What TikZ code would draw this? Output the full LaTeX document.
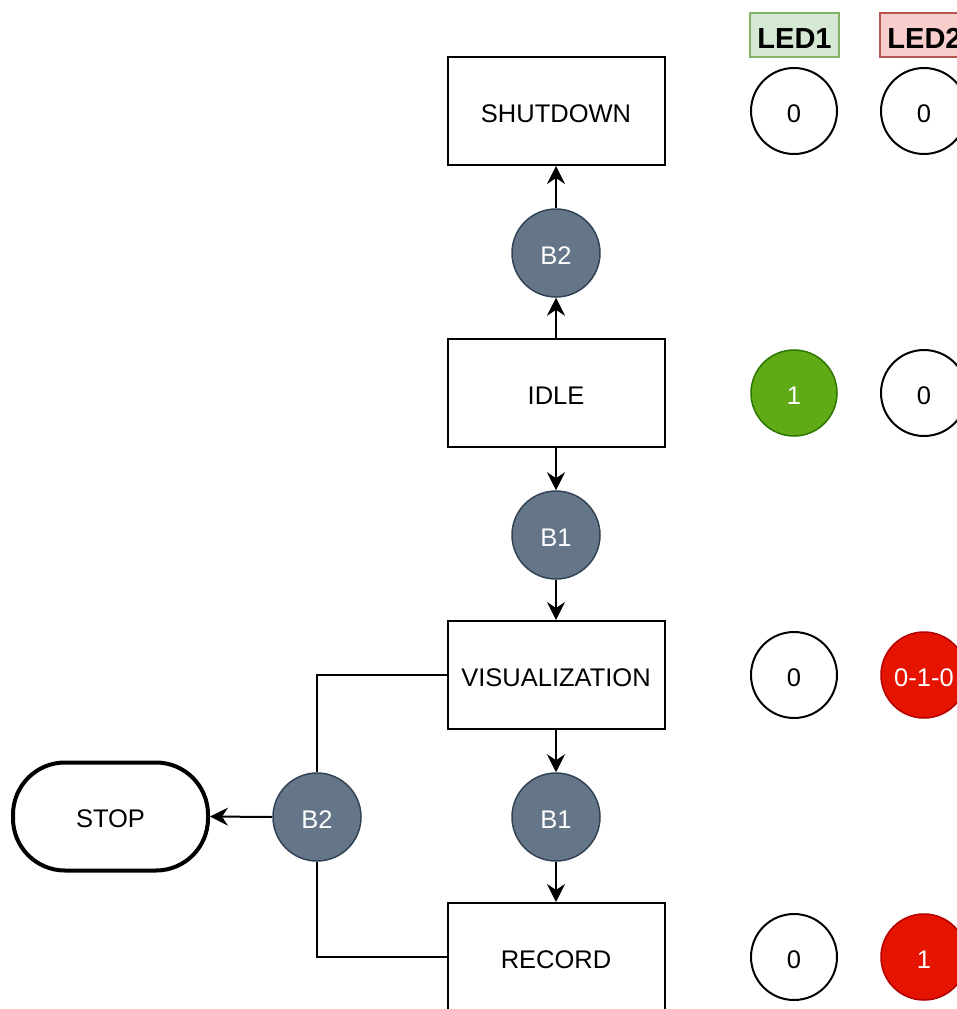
\documentclass[tikz,border=0pt]{standalone}
\usepackage{fontspec}
\setmainfont{Liberation Sans}
\usetikzlibrary{arrows.meta}
\definecolor{btnfill}{HTML}{647687}
\definecolor{btnline}{HTML}{314354}
\definecolor{grnfill}{HTML}{60A917}
\definecolor{grnline}{HTML}{2D7600}
\definecolor{redfill}{HTML}{E51400}
\definecolor{redline}{HTML}{B20000}
\definecolor{l1fill}{HTML}{D5E8D4}
\definecolor{l1line}{HTML}{82B366}
\definecolor{l2fill}{HTML}{F8CECC}
\definecolor{l2line}{HTML}{B85450}
\begin{document}
\begin{tikzpicture}[x=1pt,y=-1pt,
  every node/.style={font=\fontsize{25.5}{30}\selectfont,text height=24pt,text depth=1.8pt},
  state/.style={draw,line width=2pt,minimum width=217pt,minimum height=108pt,inner sep=0pt},
  btn/.style={circle,draw=btnline,fill=btnfill,line width=1.5pt,minimum size=88pt,inner sep=0pt,text=white},
  ledoff/.style={circle,draw,line width=2pt,minimum size=86pt,inner sep=0pt},
  ledgrn/.style={circle,draw=grnline,fill=grnfill,line width=1.5pt,minimum size=86pt,inner sep=0pt,text=white},
  ledred/.style={circle,draw=redline,fill=redfill,line width=1.5pt,minimum size=86pt,inner sep=0pt,text=white},
  ledlabel/.style={line width=2pt,minimum width=89pt,minimum height=44pt,inner sep=0pt,font=\fontsize{29}{34}\selectfont\bfseries,text height=27pt,text depth=1pt},
  conn/.style={line width=2pt},
  arr/.style={line width=2pt,-{Stealth[length=18pt,width=18pt,inset=6pt]}},
  endpt/.style={rounded corners=52pt,draw,line width=4pt,minimum width=195pt,minimum height=108pt,inner sep=0pt}
]
\useasboundingbox (0,0) rectangle (957,1009);
\clip (0,0) rectangle (957,1009);
% states
\node[state] (shut) at (556,111) {SHUTDOWN};
\node[state] (idle) at (556,393) {IDLE};
\node[state] (vis) at (556,675) {VISUALIZATION};
\node[state] (rec) at (556,957) {RECORD};
% buttons
\node[btn] (b2a) at (556,253) {B2};
\node[btn] (b1a) at (556,535) {B1};
\node[btn] (b1b) at (556,817) {B1};
\node[btn] (b2b) at (317,817) {B2};
\node[endpt] (stop) at (110.5,816.5) {STOP};
% LED labels
\node[ledlabel,draw=l1line,fill=l1fill] (led1) at (794.5,35) {LED1};
\node[ledlabel,draw=l2line,fill=l2fill] (led2) at (924.5,35) {LED2};
% LED states
\node[ledoff] (a1) at (794,111) {0};
\node[ledoff] (a2) at (924,111) {0};
\node[ledgrn] (c1) at (794,393) {1};
\node[ledoff] (c2) at (924,393) {0};
\node[ledoff] (d1) at (794,675) {0};
\node[ledred] (d2) at (924,675) {0-1-0};
\node[ledoff] (e1) at (794,957) {0};
\node[ledred] (e2) at (924,957) {1};
% connectors
\draw[arr] (idle.north) -- (b2a.south);
\draw[arr] (b2a.north) -- (shut.south);
\draw[arr] (idle.south) -- (b1a.north);
\draw[arr] (b1a.south) -- (vis.north);
\draw[arr] (vis.south) -- (b1b.north);
\draw[arr] (b1b.south) -- (rec.north);
\draw[conn] (vis.west) -| (b2b.north);
\draw[conn] (rec.west) -| (b2b.south);
\draw[arr] (b2b.west) -- (stop.east);
\end{tikzpicture}
\end{document}
